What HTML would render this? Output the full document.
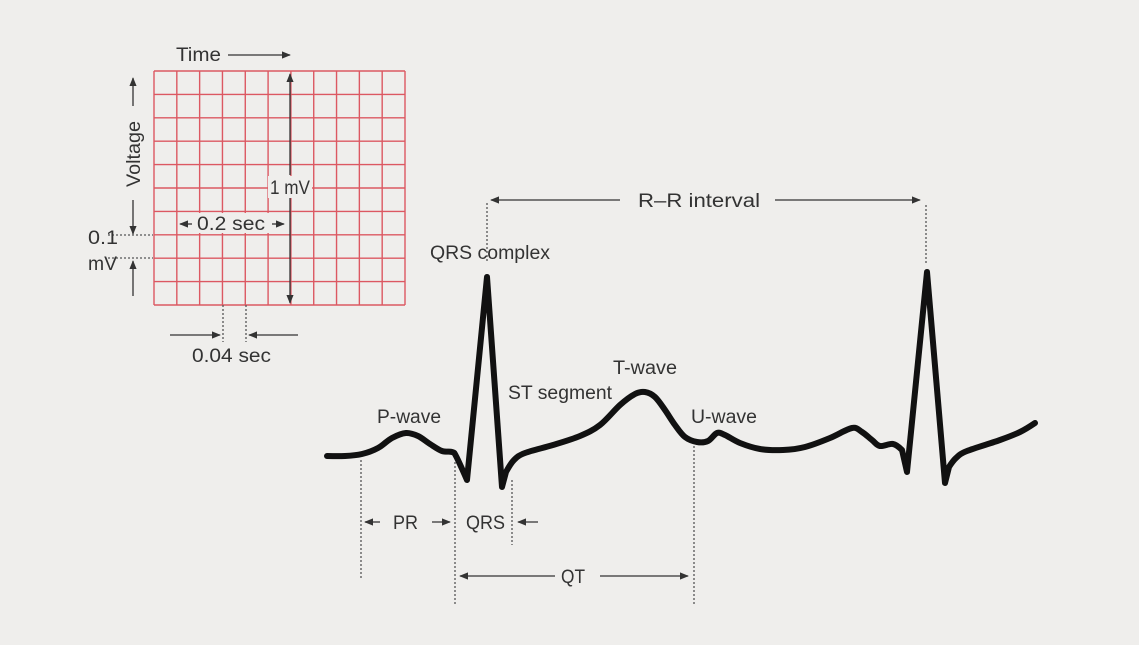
<!DOCTYPE html>
<html><head><meta charset="utf-8"><style>
html,body{margin:0;padding:0;background:#efeeec;}
svg{display:block;font-family:"Liberation Sans",sans-serif;}
text{fill:#333;font-size:19px;}
</style></head><body>
<svg width="1139" height="645" viewBox="0 0 1139 645">
<defs>
<marker id="ah" viewBox="0 0 10 10" refX="9" refY="5" markerWidth="7" markerHeight="7" orient="auto-start-reverse"><path d="M0,1 L10,5 L0,9 z" fill="#333"/></marker>
</defs>
<rect width="1139" height="645" fill="#efeeec"/>
<g id="grid"></g>
<g stroke="#333" stroke-width="1.3" fill="none">
<line x1="228" y1="55" x2="290" y2="55" marker-end="url(#ah)"/>
<line x1="133" y1="106" x2="133" y2="78" marker-end="url(#ah)"/>
<line x1="133" y1="200" x2="133" y2="234" marker-end="url(#ah)"/>
<line x1="133" y1="296" x2="133" y2="261" marker-end="url(#ah)"/>
<line x1="290" y1="175" x2="290" y2="74" marker-end="url(#ah)"/>
<line x1="290" y1="198" x2="290" y2="303" marker-end="url(#ah)"/>
<line x1="170" y1="335" x2="220" y2="335" marker-end="url(#ah)"/>
<line x1="298" y1="335" x2="249" y2="335" marker-end="url(#ah)"/>
<line x1="620" y1="200" x2="491" y2="200" marker-end="url(#ah)"/>
<line x1="775" y1="200" x2="920" y2="200" marker-end="url(#ah)"/>
<line x1="380" y1="522" x2="365" y2="522" marker-end="url(#ah)"/>
<line x1="432" y1="522" x2="450" y2="522" marker-end="url(#ah)"/>
<line x1="538" y1="522" x2="518" y2="522" marker-end="url(#ah)"/>
<line x1="555" y1="576" x2="460" y2="576" marker-end="url(#ah)"/>
<line x1="600" y1="576" x2="688" y2="576" marker-end="url(#ah)"/>
<line x1="192" y1="224" x2="180" y2="224" marker-end="url(#ah)"/>
<line x1="272" y1="224" x2="284" y2="224" marker-end="url(#ah)"/>
</g>
<g stroke="#555" stroke-width="1.3" stroke-dasharray="2,2" fill="none">
<line x1="108" y1="235" x2="153" y2="235"/><line x1="108" y1="258" x2="153" y2="258"/>
<line x1="223" y1="305" x2="223" y2="342"/><line x1="246" y1="305" x2="246" y2="342"/>
<line x1="487" y1="203" x2="487" y2="262"/><line x1="926" y1="205" x2="926" y2="265"/>
<line x1="361" y1="460" x2="361" y2="578"/><line x1="455" y1="462" x2="455" y2="605"/>
<line x1="512" y1="480" x2="512" y2="545"/><line x1="694" y1="446" x2="694" y2="605"/>
</g>
<rect id="bg1" x="268" y="176" width="44" height="22" fill="#efeeec"/>
<rect id="bg2" x="194" y="213" width="76" height="20" fill="#efeeec"/>
<g id="labels">
<text x="176" y="61" textLength="45" lengthAdjust="spacingAndGlyphs">Time</text>
<text transform="translate(140,154) rotate(-90)" text-anchor="middle" textLength="66" lengthAdjust="spacingAndGlyphs">Voltage</text>
<text x="270" y="194" textLength="40" lengthAdjust="spacingAndGlyphs">1 mV</text>
<text x="197" y="230" textLength="68" lengthAdjust="spacingAndGlyphs">0.2 sec</text>
<text x="88" y="244" textLength="30" lengthAdjust="spacingAndGlyphs">0.1</text>
<text x="88" y="270" textLength="29" lengthAdjust="spacingAndGlyphs">mV</text>
<text x="192" y="362" textLength="79" lengthAdjust="spacingAndGlyphs">0.04 sec</text>
<text x="638" y="207" textLength="122" lengthAdjust="spacingAndGlyphs">R–R interval</text>
<text x="430" y="259" textLength="120" lengthAdjust="spacingAndGlyphs">QRS complex</text>
<text x="508" y="399" textLength="104" lengthAdjust="spacingAndGlyphs">ST segment</text>
<text x="613" y="374" textLength="64" lengthAdjust="spacingAndGlyphs">T-wave</text>
<text x="377" y="423" textLength="64" lengthAdjust="spacingAndGlyphs">P-wave</text>
<text x="691" y="423" textLength="66" lengthAdjust="spacingAndGlyphs">U-wave</text>
<text x="393" y="529" textLength="25" lengthAdjust="spacingAndGlyphs">PR</text>
<text x="466" y="529" textLength="39" lengthAdjust="spacingAndGlyphs">QRS</text>
<text x="561" y="583" textLength="24" lengthAdjust="spacingAndGlyphs">QT</text>
</g>
<path id="trace" fill="none" stroke="#111" stroke-width="6" stroke-linejoin="round" stroke-linecap="round"/>
</svg>
<script>
const times=[0,18,35,51,65,79,91,103,115,125,129,140,160,175,179,187,198,226,253,273,293,308,318,328,338,348,358,370,381,390,398,413,433,456,478,503,525,535,545,553,566,575,580,600,618,622,629,640,673,693,708];
const volts=[0,0,2,8,18,23,20,12,5,4,0,-24,179,-31,-16,-4,3,11,20,31,51,62,64,59,46,31,19,14,15,23,21,13,7,6,9,18,28,24,16,10,12,6,-16,184,-27,-11,-2,5,16,24,33];
const gridCols=[0,1,2,3,4,5,6,7,8,9,10,11];
const gridRows=[0,1,2,3,4,5,6,7,8,9,10];
function xScale(t){return 327+t;}
function yScale(v){return 456-v;}
const P=times.map((t,i)=>[xScale(t),yScale(volts[i])]);
function steep(a,b){return Math.abs((b[1]-a[1])/(b[0]-a[0]))>3;}
function tang(i){
  if(i===0||i===P.length-1) return [0,0];
  if(steep(P[i-1],P[i])||steep(P[i],P[i+1])) return [0,0];
  return [(P[i+1][0]-P[i-1][0])/6,(P[i+1][1]-P[i-1][1])/6];
}
let d='M'+P[0][0]+','+P[0][1];
for(let i=0;i<P.length-1;i++){
  const t0=tang(i),t1=tang(i+1);
  d+='C'+(P[i][0]+t0[0]).toFixed(1)+','+(P[i][1]+t0[1]).toFixed(1)+' '+(P[i+1][0]-t1[0]).toFixed(1)+','+(P[i+1][1]-t1[1]).toFixed(1)+' '+P[i+1][0]+','+P[i+1][1];
}
document.getElementById('trace').setAttribute('d',d);
const g=document.getElementById('grid');
const ns='http://www.w3.org/2000/svg';
const gx0=154,gx1=405,gy0=71,gy1=305;
gridCols.forEach(c=>{const x=gx0+(gx1-gx0)*c/11;const l=document.createElementNS(ns,'line');
l.setAttribute('x1',x);l.setAttribute('x2',x);l.setAttribute('y1',gy0);l.setAttribute('y2',gy1);
l.setAttribute('stroke','#dc5862');l.setAttribute('stroke-width','1.4');


g.appendChild(l);});
gridRows.forEach(r=>{const y=gy0+(gy1-gy0)*r/10;const l=document.createElementNS(ns,'line');
l.setAttribute('x1',gx0);l.setAttribute('x2',gx1);l.setAttribute('y1',y);l.setAttribute('y2',y);
l.setAttribute('stroke','#dc5862');l.setAttribute('stroke-width','1.4');


g.appendChild(l);});
</script>
</body></html>
